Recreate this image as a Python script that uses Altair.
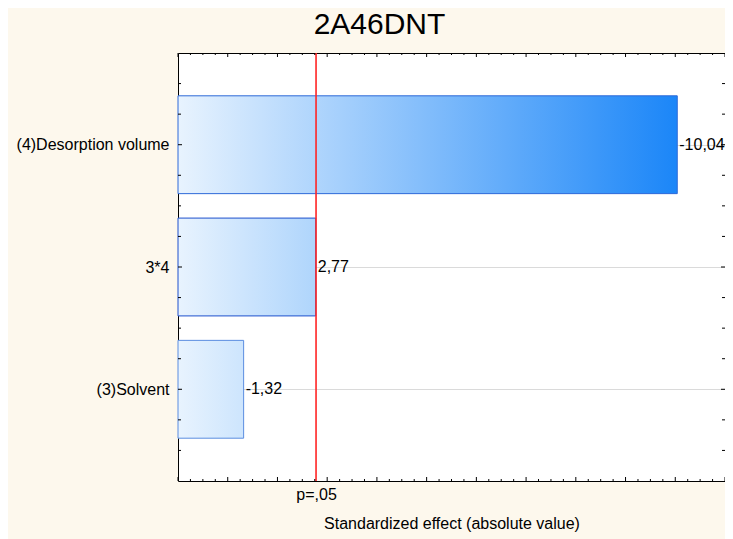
import json
import altair as alt
import pandas as pd

# ---- data ----
factors = ["(4)Desorption volume", "3*4", "(3)Solvent"]
effects = [-10.04, 2.77, -1.32]
p_crit = 2.776            # critical |t| at p = .05
p_label = "p=,05"
x_max = 11
x_major_ticks = list(range(0, 12))
x_minor_ticks = [q / 4 for q in range(1, 44) if q % 4 != 0]
y_major_ticks = [1, 2, 3]
y_minor_ticks = [0.5, 0.75, 1.25, 1.5, 1.75, 2.25, 2.5, 2.75, 3.25, 3.5]

LEFT, TOP = 170, 45
W, H = 547, 428
FONT = "Liberation Sans"

df = pd.DataFrame({
    "factor": factors,
    "idx": [1, 2, 3],
    "effect": effects,
})
df["abs"] = df["effect"].abs()
df["lo"] = df["idx"] - 0.4
df["hi"] = df["idx"] + 0.4
df["zero"] = 0.0
df["txt"] = [f"{v:.2f}".replace(".", ",") for v in effects]

xscale = alt.Scale(domain=[0, x_max], nice=False, zero=False)
yscale = alt.Scale(domain=[0.25, 3.75], nice=False, zero=False, reverse=True)

label_expr = f"{json.dumps(factors)}[datum.value - 1]"

# gradient colours relative to the largest effect
c0 = (232, 243, 254)
c1 = (27, 134, 248)
vmax = max(abs(v) for v in effects)
strokes = ["#2E6AD8", "#1E50CC", "#5B8DE0"]


def mix(t):
    r, g, b = (round(a + (bb - a) * t) for a, bb in zip(c0, c1))
    return f"#{r:02x}{g:02x}{b:02x}"


X_AX = alt.Axis(values=[p_crit], labelExpr=f"'{p_label}'",
                title="Standardized effect (absolute value)",
                grid=False, ticks=False, domain=False,
                labelFlush=False, labelPadding=5,
                labelFontSize=16, titleFontSize=16,
                titleFontWeight="normal", titlePadding=13,
                labelColor="#000", titleColor="#000")
Y_AX = alt.Axis(values=y_major_ticks, labelExpr=label_expr,
                title=None, grid=True, gridColor="#DADADA",
                gridWidth=1, ticks=False, domain=False,
                labelPadding=9, labelFontSize=16,
                labelColor="#000", labelFlush=False)

layers = []
for i, name in enumerate(factors):
    t = abs(effects[i]) / vmax
    grad = alt.Gradient(
        gradient="linear", x1=0, x2=1, y1=0, y2=0,
        stops=[alt.GradientStop(offset=0, color=mix(0)),
               alt.GradientStop(offset=1, color=mix(t))])
    layers.append(
        alt.Chart(df).transform_filter(alt.datum.factor == name)
        .mark_rect(fill=grad, stroke=strokes[i], strokeWidth=1)
        .encode(x=alt.X("zero:Q", scale=xscale, axis=X_AX), x2="abs:Q",
                y=alt.Y("lo:Q", scale=yscale, axis=Y_AX), y2="hi:Q")
    )

labels = alt.Chart(df).mark_text(align="left", baseline="middle", dx=2,
                                 fontSize=16, color="#000").encode(
    x=alt.X("abs:Q", scale=xscale, axis=X_AX),
    y=alt.Y("idx:Q", scale=yscale, axis=Y_AX),
    text="txt:N",
)

pdf = pd.DataFrame({"p": [p_crit]})
pline = alt.Chart(pdf).mark_rule(color="#FF2424", strokeWidth=1.6).encode(
    x=alt.X("p:Q", scale=xscale, axis=X_AX))

xmaj = pd.DataFrame({"v": x_major_ticks})
xmin = pd.DataFrame({"v": x_minor_ticks})
ymaj = pd.DataFrame({"v": y_major_ticks})
ymin = pd.DataFrame({"v": y_minor_ticks})


def xticks(d, L):
    bot = alt.Chart(d).mark_rule(color="#000", strokeWidth=1).encode(
        x=alt.X("v:Q", scale=xscale, axis=X_AX),
        y=alt.value(H), y2=alt.value(H - L))
    top = alt.Chart(d).mark_rule(color="#000", strokeWidth=1).encode(
        x=alt.X("v:Q", scale=xscale, axis=X_AX),
        y=alt.value(0), y2=alt.value(L))
    return [bot, top]


def yticks(d, L):
    left = alt.Chart(d).mark_rule(color="#000", strokeWidth=1).encode(
        y=alt.Y("v:Q", scale=yscale, axis=Y_AX),
        x=alt.value(0), x2=alt.value(L))
    right = alt.Chart(d).mark_rule(color="#000", strokeWidth=1).encode(
        y=alt.Y("v:Q", scale=yscale, axis=Y_AX),
        x=alt.value(W), x2=alt.value(W - L))
    return [left, right]


tick_layers = xticks(xmaj, 4) + xticks(xmin, 2) + yticks(ymaj, 4) + yticks(ymin, 3)

chart = alt.layer(*layers, labels, pline, *tick_layers).properties(
    width=W, height=H,
    autosize=alt.AutoSizeParams(type="none"),
    padding={"left": LEFT, "top": TOP, "right": 0, "bottom": 58},
    title=alt.TitleParams("2A46DNT", fontSize=30, font=FONT,
                          fontWeight="normal", color="#000",
                          anchor="middle", frame="group", dx=-72, offset=12),
).configure(
    font=FONT, background="#FDF8ED",
).configure_view(
    fill="white", stroke="#000", strokeWidth=1,
)

chart.save("out.html", embed_options={"renderer": "svg", "actions": False})
